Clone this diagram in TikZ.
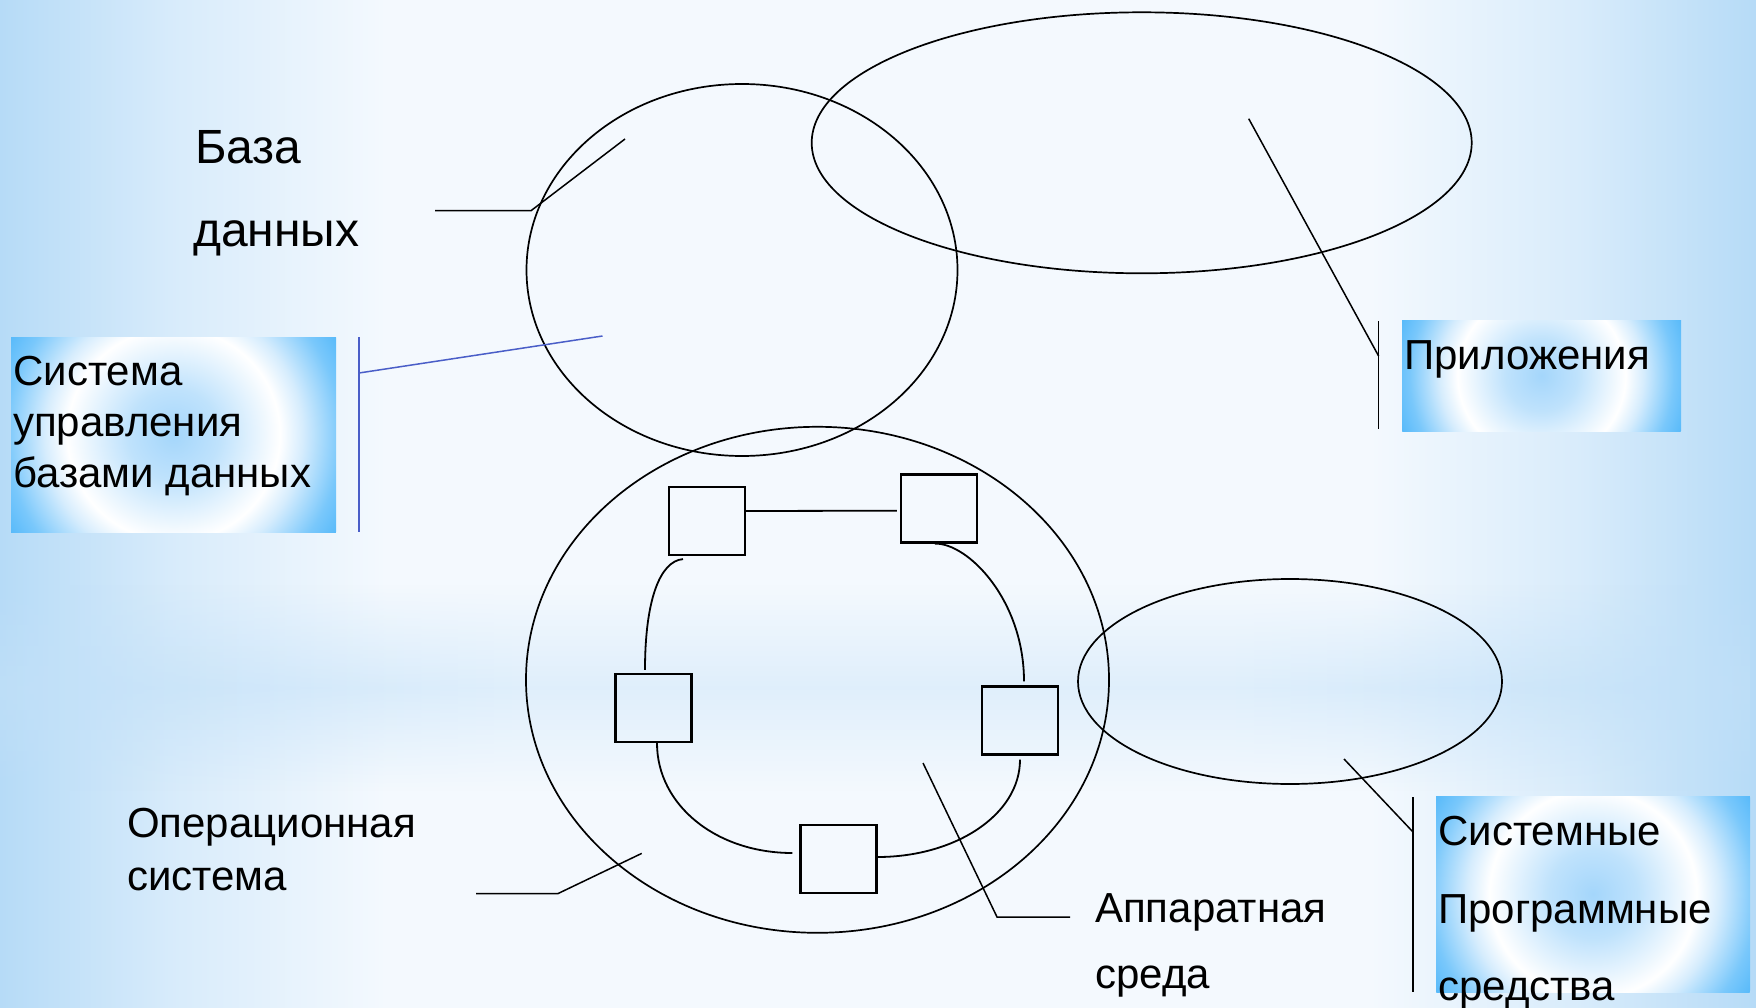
\documentclass[tikz,border=0pt]{standalone}
\usepackage{fontspec}
\setmainfont{Liberation Sans}
\usetikzlibrary{shapes.geometric,calc,fadings}

\definecolor{bgblue}{HTML}{B6DBF7}
\definecolor{bgwhite}{HTML}{F4F9FE}
\definecolor{bandblue}{HTML}{BFDFF8}
\definecolor{boxblue}{HTML}{58BAFA}
\definecolor{boxmid}{HTML}{A4D6FB}
\definecolor{leaderblue}{HTML}{4A5EC8}

\pgfdeclarehorizontalshading{bgshade}{100bp}{color(0bp)=(bgblue); color(25bp)=(bgblue); color(30bp)=(bgwhite!55!bgblue); color(36bp)=(bgwhite); color(64bp)=(bgwhite); color(70bp)=(bgwhite!55!bgblue); color(75bp)=(bgblue); color(100bp)=(bgblue)}
\pgfdeclarehorizontalshading{bandshade}{100bp}{color(0bp)=(bandblue); color(25bp)=(bandblue); color(40bp)=(bandblue!45!bgwhite); color(60bp)=(bandblue!45!bgwhite); color(75bp)=(bandblue); color(100bp)=(bandblue)}
\pgfdeclareradialshading{boxshade}{\pgfpoint{0bp}{0bp}}{color(0bp)=(boxmid); color(6bp)=(boxmid!70!white); color(14bp)=(white); color(17bp)=(boxmid!45!white); color(22bp)=(boxblue!80!white); color(25bp)=(boxblue); color(50bp)=(boxblue)}
\tikzfading[name=bandfade, top color=transparent!100, bottom color=transparent!100, middle color=transparent!15]

\tikzset{
  oval/.style={ellipse, draw=black, line width=1.7, inner sep=0pt},
  sq/.style={rectangle, draw=black, line width=2.2, minimum width=76, minimum height=68, inner sep=0pt},
  ring/.style={draw=black, line width=1.8},
  leader/.style={draw=black, line width=1.5},
  bleader/.style={draw=leaderblue, line width=1.5},
  gbox/.style={rectangle, inner sep=0pt, path picture={\shade[shading=boxshade] (path picture bounding box.center) circle (#1);}},
  lbl/.style={anchor=base west, inner sep=0pt, font=\fontsize{42}{50}\selectfont},
  biglbl/.style={anchor=base west, inner sep=0pt, font=\fontsize{48}{56}\selectfont},
}

\begin{document}
\begin{tikzpicture}[x=1pt,y=-1pt]
\useasboundingbox (0,0) rectangle (1756,1008);
% background
\shade[shading=bgshade] (0,0) rectangle (1756,1008);
\shade[shading=bandshade, path fading=bandfade] (0,585) rectangle (1756,790);

% gradient text boxes
\node[gbox=190pt, minimum width=325, minimum height=195] (subdbox) at (173.5,434.5) {};
\node[gbox=150pt, minimum width=279, minimum height=111] (appbox) at (1541.5,375.5) {};
\node[gbox=185pt, minimum width=314, minimum height=196] (ssbox) at (1593,894) {};

% ellipses
\node[oval, minimum width=431, minimum height=372] (db) at (742,270) {};
\node[oval, minimum width=660, minimum height=261] (apps) at (1141.7,142.8) {};
\node[oval, minimum width=583, minimum height=506] (os) at (817.5,679.8) {};
\node[oval, minimum width=424, minimum height=205] (sysw) at (1290,681.5) {};

% boxes
\node[sq] (b1) at (707,521) {};
\node[sq] (b2) at (939,508.5) {};
\node[sq] (b3) at (653.5,708) {};
\node[sq] (b4) at (1020,720.5) {};
\node[sq] (b5) at (838.5,859) {};

% ring connectors
\draw[ring] ($(b1.east)+(0,-10)$) -- ($(b2.west)+(-3,2.2)$);
\draw[ring] ($(b1.south)+(-24,3)$) .. controls (660,561) and (645,600) .. ($(b3.north)+(-8.5,-3)$);
\draw[ring] ($(b2.south)+(-4,0)$) .. controls (968,543) and (1024,600) .. ($(b4.north)+(4,-4)$);
\draw[ring] ($(b3.south)+(3.5,0)$) .. controls (657,805) and (716,853) .. ($(b5.west)+(-7,-6)$);
\draw[ring] ($(b4.south)+(0,4)$) .. controls (1020,815) and (955,857) .. ($(b5.east)+(0,-2)$);

% labels
\node[biglbl] (dbt1) at (195,164) {База};
\node[biglbl] (dbt2) at (193,247) {данных};
\node[lbl] (subd1) at (13,385) {Система};
\node[lbl] (subd2) at (13,436) {управления};
\node[lbl] (subd3) at (13,487) {базами данных};
\node[lbl] (appt) at (1404,369) {Приложения};
\node[lbl] (os1) at (127,837) {Операционная};
\node[lbl] (os2) at (127,890) {система};
\node[lbl] (hw1) at (1095,922) {Аппаратная};
\node[lbl] (hw2) at (1095,988) {среда};
\node[lbl] (ss1) at (1438,845) {Системные};
\node[lbl] (ss2) at (1438,923) {Программные};
\node[lbl] (ss3) at (1438,1000) {средства};

% leader coordinates
\coordinate (dbA) at (435,210.7);
\coordinate (dbB) at (531,210.7);
\coordinate (dbC) at (625,139);
\coordinate (suTop) at (359,337);
\coordinate (suBot) at (359,532);
\coordinate (suA) at (359,373);
\coordinate (suC) at (602.5,336);
\coordinate (apTop) at (1378.6,321);
\coordinate (apBot) at (1378.6,429);
\coordinate (apA) at (1378.6,356);
\coordinate (apC) at (1248.7,118.7);
\coordinate (osA) at (476,893.7);
\coordinate (osB) at (557.7,893.7);
\coordinate (osC) at (641.7,853.4);
\coordinate (hwA) at (1070,917);
\coordinate (hwB) at (997,917);
\coordinate (hwC) at (923,763);
\coordinate (ssTop) at (1413,797);
\coordinate (ssBot) at (1413,992);
\coordinate (ssA) at (1413,832);
\coordinate (ssC) at (1344,759);

% leaders
\draw[leader] (dbA) -- (dbB) -- (dbC);
\draw[bleader] (suTop) -- (suBot);
\draw[bleader] (suA) -- (suC);
\draw[leader] (apTop) -- (apBot);
\draw[leader] (apA) -- (apC);
\draw[leader] (osA) -- (osB) -- (osC);
\draw[leader] (hwA) -- (hwB) -- (hwC);
\draw[leader] (ssTop) -- (ssBot);
\draw[leader] (ssA) -- (ssC);
\end{tikzpicture}
\end{document}
